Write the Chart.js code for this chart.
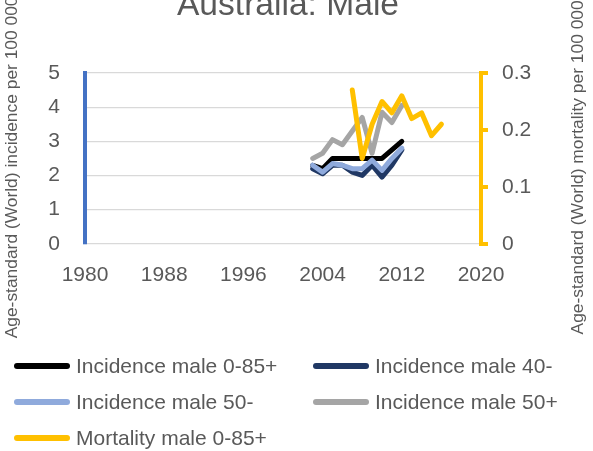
<!DOCTYPE html>
<html>
<head>
<meta charset="utf-8">
<script src="https://cdn.jsdelivr.net/npm/chart.js@4"></script>
<style>
  html, body { margin: 0; padding: 0; background: #fff; }
  body { width: 593px; height: 451px; position: relative; overflow: hidden; font-family: 'Liberation Sans', sans-serif; }
  #wrap { position: absolute; left: 0; top: -14px; width: 593px; height: 363px; }
  #legend { position: absolute; left: 0; top: 348px; width: 593px; display: grid; grid-template-columns: 299px 294px; }
  .item { display: flex; align-items: center; height: 36px; color: #595959; font-size: 21px; white-space: nowrap; }
  .swatch { width: 56px; height: 6px; border-radius: 3px; margin-left: 14px; margin-right: 6px; }
</style>
</head>
<body>
<div id="wrap"><canvas id="chart"></canvas></div>
<div id="legend"></div>
<script>
(() => {
  'use strict'

  // Data
  const years = [2003, 2004, 2005, 2006, 2007, 2008, 2009, 2010, 2011, 2012, 2013, 2014, 2015, 2016]
  const incidenceAll = [2.3, 2.2, 2.5, 2.5, 2.5, 2.5, 2.5, 2.5, 2.75, 3.0, null, null, null, null]
  const incidence40 = [2.2, 2.05, 2.3, 2.3, 2.1, 2.0, 2.3, 1.95, 2.3, 2.75, null, null, null, null]
  const incidence50minus = [2.3, 2.1, 2.35, 2.3, 2.2, 2.2, 2.45, 2.15, 2.5, 2.8, null, null, null, null]
  const incidence50plus = [2.5, 2.65, 3.05, 2.9, 3.3, 3.7, 2.65, 3.85, 3.55, 4.05, null, null, null, null]
  const mortalityAll = [null, null, null, null, 0.27, 0.15, 0.21, 0.25, 0.23, 0.26, 0.22, 0.23, 0.19, 0.21]

  const xTicks = [1980, 1988, 1996, 2004, 2012, 2020]
  const leftTicks = [0, 1, 2, 3, 4, 5]
  const rightTicks = [0, 0.1, 0.2, 0.3]

  const series = [
    { label: 'Incidence male 0-85+', data: incidenceAll, color: '#000000', axis: 'y', order: 5 },
    { label: 'Incidence male 40-', data: incidence40, color: '#203864', axis: 'y', order: 4 },
    { label: 'Incidence male 50-', data: incidence50minus, color: '#8FAADC', axis: 'y', order: 3 },
    { label: 'Incidence male 50+', data: incidence50plus, color: '#A5A5A5', axis: 'y', order: 2 },
    { label: 'Mortality male 0-85+', data: mortalityAll, color: '#FFC000', axis: 'y1', order: 1 }
  ]

  Chart.defaults.font.family = "'Liberation Sans', sans-serif"
  Chart.defaults.color = '#595959'

  // Rotated axis titles, centred a little below the plot centre like the original
  const axisTitles = {
    id: 'axisTitles',
    afterDraw(chart, args, opts) {
      const { ctx, chartArea } = chart
      const cy = (chartArea.top + chartArea.bottom) / 2 + opts.shift
      ctx.save()
      ctx.font = opts.size + "px 'Liberation Sans', sans-serif"
      ctx.fillStyle = '#595959'
      ctx.textAlign = 'center'
      ctx.textBaseline = 'middle'
      ctx.translate(opts.leftX, cy)
      ctx.rotate(-Math.PI / 2)
      ctx.fillText(opts.left, 0, 0)
      ctx.restore()
      ctx.save()
      ctx.font = opts.size + "px 'Liberation Sans', sans-serif"
      ctx.fillStyle = '#595959'
      ctx.textAlign = 'center'
      ctx.textBaseline = 'middle'
      ctx.translate(opts.rightX, cy)
      ctx.rotate(-Math.PI / 2)
      ctx.fillText(opts.right, 0, 0)
      ctx.restore()
    }
  }

  const ctx = document.getElementById('chart')
  // eslint-disable-next-line no-unused-vars
  const myChart = new Chart(ctx, {
    type: 'line',
    data: {
      labels: years,
      datasets: series.map(s => ({
        label: s.label,
        data: s.data,
        yAxisID: s.axis,
        order: s.order,
        borderColor: s.color,
        backgroundColor: s.color,
        borderWidth: 5,
        pointRadius: 0,
        tension: 0,
        borderJoinStyle: 'round',
        borderCapStyle: 'round'
      }))
    },
    plugins: [axisTitles],
    options: {
      responsive: true,
      maintainAspectRatio: false,
      animation: false,
      layout: { padding: { top: 0, bottom: 42, left: 0, right: 17 } },
      plugins: {
        legend: { display: false },
        tooltip: { enabled: false },
        title: {
          display: true,
          text: 'Australia: Male',
          color: '#595959',
          font: { size: 33.6, weight: 'normal' },
          padding: { top: 0, bottom: 46.7 }
        },
        axisTitles: {
          left: 'Age-standard (World) incidence per 100 000',
          right: 'Age-standard (World) mortality per 100 000',
          size: 17.4,
          leftX: 12,
          rightX: 578,
          shift: 9
        }
      },
      scales: {
        x: {
          type: 'linear',
          min: xTicks[0],
          max: xTicks[xTicks.length - 1],
          ticks: { stepSize: xTicks[1] - xTicks[0], padding: 19, font: { size: 21 }, callback: v => String(v) },
          grid: { display: false, drawTicks: false },
          border: { display: false }
        },
        y: {
          position: 'left',
          min: leftTicks[0],
          max: leftTicks[leftTicks.length - 1],
          ticks: { stepSize: 1, padding: 25, font: { size: 21 } },
          grid: { color: '#D9D9D9', lineWidth: 1.3, drawTicks: false },
          border: { display: true, color: '#4472C4', width: 4 },
          afterFit: scale => { scale.width = 85 }
        },
        y1: {
          position: 'right',
          min: rightTicks[0],
          max: rightTicks[rightTicks.length - 1],
          ticks: { stepSize: 0.1, padding: 14, font: { size: 21 } },
          grid: { drawOnChartArea: false, drawTicks: true, tickLength: 7, color: '#FFC000', lineWidth: 4 },
          border: { display: true, color: '#FFC000', width: 4 },
          afterFit: scale => { scale.width = 95 }
        }
      }
    }
  })

  // Legend in two columns, as in the picture
  const legend = document.getElementById('legend')
  series.forEach(s => {
    const item = document.createElement('div')
    item.className = 'item'
    const sw = document.createElement('span')
    sw.className = 'swatch'
    sw.style.background = s.color
    const txt = document.createElement('span')
    txt.textContent = s.label
    item.appendChild(sw)
    item.appendChild(txt)
    legend.appendChild(item)
  })
})()
</script>
</body>
</html>
